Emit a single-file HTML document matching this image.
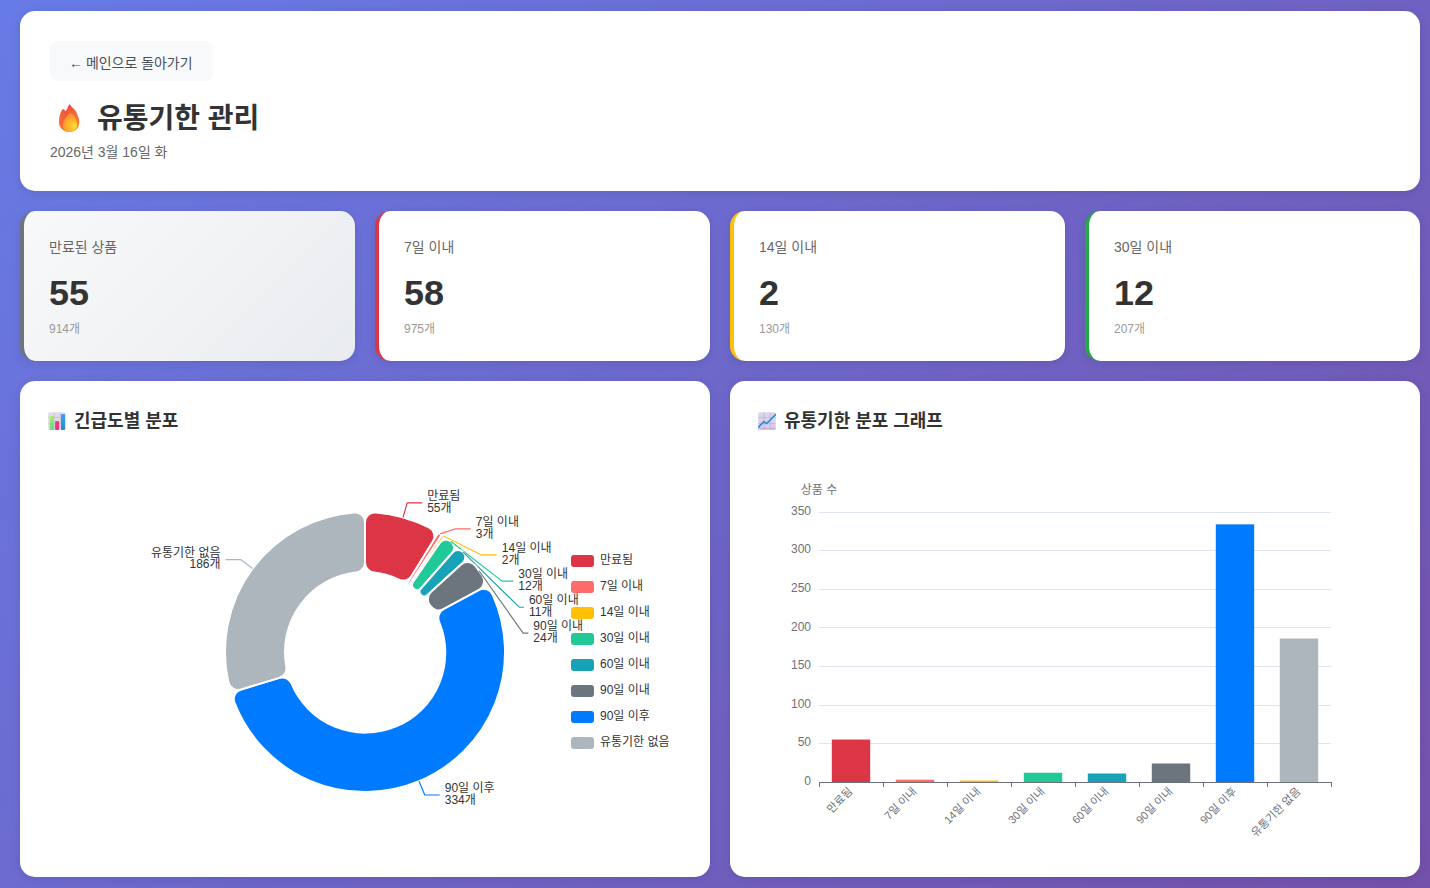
<!DOCTYPE html>
<html lang="ko"><head><meta charset="utf-8"><title>유통기한 관리</title>
<style>
*{box-sizing:border-box}
html,body{margin:0;padding:0}
body{width:1430px;height:888px;overflow:hidden;position:relative;
 font-family:"Liberation Sans","Noto Sans CJK KR",sans-serif;color:#333;
 background:linear-gradient(135deg,#677be6 0%,#7451ab 100%)}
.container{position:absolute;left:20px;top:11px;width:1400px;height:866px}
.card{position:absolute;background:#fff;border-radius:15px;box-shadow:0 2px 10px rgba(0,0,0,.1)}
.header{left:0;top:0;width:1400px;height:180px}
.back{position:absolute;left:30px;top:30px;width:163px;height:40px;margin:0;padding:0;border:0;
 border-radius:8px;background:#f8f9fa;font:inherit;color:#495057}
.stats{position:absolute;left:0;top:200px;width:1400px;height:150px}
.stat-card{position:absolute;top:0;width:335px;height:150px;background:#fff;border-radius:15px;
 border-left:4px solid #28a745;box-shadow:0 2px 10px rgba(0,0,0,.1)}
.stat-card.expired{border-left-color:#6c757d;background:linear-gradient(135deg,#f8f9fa 0%,#e9ecef 100%)}
.stat-card.d7{border-left-color:#dc3545}
.stat-card.d14{border-left-color:#ffc107}
.stat-card.d30{border-left-color:#28a745}
.charts{position:absolute;left:0;top:370px;width:1400px;height:496px}
.chart-card{top:0;width:690px;height:496px}
.chart{position:absolute;left:25px;top:71px;display:block}
.t{position:absolute;margin:0;padding:0;font-weight:inherit;line-height:1;white-space:nowrap;overflow:visible}
.t svg{position:absolute;left:0;top:0;display:block;overflow:visible}
.t svg text{font-family:"Liberation Sans","Noto Sans CJK KR",sans-serif;white-space:pre}
.ico{position:absolute;display:block}
.ht{stroke:none;font-family:"Liberation Sans","Noto Sans CJK KR",sans-serif}
</style></head>
<body>
<div class="container">
<header class="card header"><button class="back" type="button"><span class="t bt" style="left:19.12px;top:11.82px;width:125.73px;height:18.67px;font-size:14px;"><svg width="125.73" height="18.67" viewBox="0 0 125.73 18.67"><text x="0" y="14.58" font-size="14" fill="#495057">←</text><text x="16.86" y="14.58" font-size="14" fill="#495057">메인으로 돌아가기</text></svg></span></button><svg class="ico" style="left:30px;top:87px" width="40" height="40" viewBox="0 0 40 40" aria-hidden="true">
<defs>
<linearGradient id="fo" gradientUnits="userSpaceOnUse" x1="17" y1="6" x2="25" y2="34"><stop offset="0" stop-color="#ec383d"/><stop offset="0.3" stop-color="#f4623a"/><stop offset="1" stop-color="#fa8b36"/></linearGradient>
<linearGradient id="fm" gradientUnits="userSpaceOnUse" x1="12" y1="13" x2="16" y2="34"><stop offset="0" stop-color="#f0503a"/><stop offset="1" stop-color="#f67836"/></linearGradient>
<radialGradient id="fi" gradientUnits="userSpaceOnUse" cx="24.3" cy="28.3" r="14"><stop offset="0" stop-color="#ffe22f"/><stop offset="0.4" stop-color="#ffb62e"/><stop offset="1" stop-color="#f68a30"/></radialGradient>
</defs>
<path fill="url(#fo)" d="M19.4 6C20.8 8.2 22.8 9.8 24.3 11.3C26 13 28 17.5 29.1 21.5C29.6 23.5 29.5 26.5 27.9 29.6C26.5 32.2 23.5 34 20.2 34C16.8 34 13.5 32.6 11.3 30.4C9.6 28.6 8.9 26.5 9 24C9.1 20 9.6 16.8 10.9 14.2C11.5 13 12.3 11.8 13.1 11.1C14 11.7 15 12.5 15.8 13.35C16.6 12 18.2 8.6 19.4 6Z"/>
<path fill="url(#fm)" d="M15.8 13.35C14.8 15 13.9 16.8 13.3 18.2C12.4 19.8 11.5 21.6 11.1 23.1C10.7 24.8 10.6 26.4 10.9 27.9C11.3 29.6 12.2 31 13.3 32C14.5 33 16 33.7 17.4 33.9L20.2 15C18.8 14.2 17.2 13.6 15.8 13.35Z" opacity="0.9"/>
<path fill="url(#fi)" d="M20.2 15C21.2 15.4 22.2 16 23.05 16.6C24.4 18 25.4 20 25.9 21.5C26.6 23 27.1 24.4 27.1 25.5C27.3 27 27.2 28.4 26.7 29.6C26 31.4 24.6 32.8 23 33.4C22 33.8 21 34 20.2 34C18.8 34 17.4 33.8 16.2 33.4C14.8 32.8 13.8 31.6 13.5 30.4C13 29 12.9 27 13.1 25.5C13.4 23.8 14.1 22.4 14.9 21.05C15.6 19.8 16.4 18.6 17.4 17.4C18.2 16.4 19.2 15.5 20.2 15Z"/>
</svg><h1 class="t title" style="left:76.85px;top:91.01px;width:164.23px;height:32.01px;font-size:28px;"><svg width="164.23" height="32.01" viewBox="0 0 164.23 32.01"><text x="0" y="26.49" font-size="28" font-weight="bold" fill="#333">유통기한 관리</text></svg></h1><p class="t date" style="left:29.75px;top:131.32px;width:117.87px;height:18.67px;font-size:14px;"><svg width="117.87" height="18.67" viewBox="0 0 117.87 18.67"><text x="0" y="14.58" font-size="14" fill="#666">2026년 3월 16일 화</text></svg></p></header>
<section class="stats"><div class="stat-card expired" style="left:0px"><div class="t lab" style="left:25px;top:26.32px;width:70.24px;height:18.64px;font-size:14px;"><svg width="70.24" height="18.64" viewBox="0 0 70.24 18.64"><text x="0" y="14.58" font-size="14" fill="#666">만료된 상품</text></svg></div><div class="t num" style="left:25.2px;top:65.2px;width:43.17px;height:32.05px;font-size:36px;"><svg width="43.17" height="32.05" viewBox="0 0 43.17 32.05"><text x="0" y="28.7" font-size="36" font-weight="bold" fill="#333">55</text></svg></div><div class="t sub" style="left:25px;top:109.08px;width:32.45px;height:16.86px;font-size:12px;"><svg width="32.45" height="16.86" viewBox="0 0 32.45 16.86"><text x="0" y="12.92" font-size="12" fill="#999">914개</text></svg></div></div><div class="stat-card d7" style="left:355px"><div class="t lab" style="left:25px;top:26.32px;width:52.02px;height:18.68px;font-size:14px;"><svg width="52.02" height="18.68" viewBox="0 0 52.02 18.68"><text x="0" y="14.58" font-size="14" fill="#666">7일 이내</text></svg></div><div class="t num" style="left:25.2px;top:64.87px;width:43.17px;height:32.38px;font-size:36px;"><svg width="43.17" height="32.38" viewBox="0 0 43.17 32.38"><text x="0" y="29.03" font-size="36" font-weight="bold" fill="#333">58</text></svg></div><div class="t sub" style="left:25px;top:109.08px;width:32.45px;height:16.86px;font-size:12px;"><svg width="32.45" height="16.86" viewBox="0 0 32.45 16.86"><text x="0" y="12.92" font-size="12" fill="#999">975개</text></svg></div></div><div class="stat-card d14" style="left:710px"><div class="t lab" style="left:25px;top:26.32px;width:59.57px;height:18.68px;font-size:14px;"><svg width="59.57" height="18.68" viewBox="0 0 59.57 18.68"><text x="0" y="14.58" font-size="14" fill="#666">14일 이내</text></svg></div><div class="t num" style="left:25.2px;top:64.83px;width:22.58px;height:32.07px;font-size:36px;"><svg width="22.58" height="32.07" viewBox="0 0 22.58 32.07"><text x="0" y="29.07" font-size="36" font-weight="bold" fill="#333">2</text></svg></div><div class="t sub" style="left:25px;top:109.08px;width:32.45px;height:16.86px;font-size:12px;"><svg width="32.45" height="16.86" viewBox="0 0 32.45 16.86"><text x="0" y="12.92" font-size="12" fill="#999">130개</text></svg></div></div><div class="stat-card d30" style="left:1065px"><div class="t lab" style="left:25px;top:26.32px;width:59.57px;height:18.68px;font-size:14px;"><svg width="59.57" height="18.68" viewBox="0 0 59.57 18.68"><text x="0" y="14.58" font-size="14" fill="#666">30일 이내</text></svg></div><div class="t num" style="left:25.2px;top:64.83px;width:43.17px;height:32.07px;font-size:36px;"><svg width="43.17" height="32.07" viewBox="0 0 43.17 32.07"><text x="0" y="29.07" font-size="36" font-weight="bold" fill="#333">12</text></svg></div><div class="t sub" style="left:25px;top:109.08px;width:32.45px;height:16.86px;font-size:12px;"><svg width="32.45" height="16.86" viewBox="0 0 32.45 16.86"><text x="0" y="12.92" font-size="12" fill="#999">207개</text></svg></div></div></section>
<section class="charts">
<div class="card chart-card" style="left:0"><svg class="ico" style="left:28px;top:31px" width="18" height="18" viewBox="0 0 18 18" aria-hidden="true">
<defs><linearGradient id="ib1" x1="0" y1="0" x2="0.3" y2="1"><stop offset="0" stop-color="#b8f066"/><stop offset="1" stop-color="#62dc7c"/></linearGradient>
<linearGradient id="ib2" x1="0" y1="0" x2="0" y2="1"><stop offset="0" stop-color="#f43a82"/><stop offset="1" stop-color="#e43470"/></linearGradient>
<linearGradient id="ib3" x1="0" y1="0" x2="0" y2="1"><stop offset="0" stop-color="#32a8f4"/><stop offset="1" stop-color="#3182d6"/></linearGradient></defs>
<rect x="0.2" y="0.2" width="17.6" height="17.6" rx="1.6" fill="#e2dbec"/>
<path d="M6.2 0.4V17.6M12.2 0.4V17.6M0.4 5.6H17.6M0.4 11.6H17.6" stroke="#c4bbcf" stroke-width="0.7" fill="none"/>
<rect x="1.7" y="4" width="4.1" height="14" rx="0.8" fill="url(#ib1)"/>
<rect x="7.1" y="9" width="3.9" height="9" rx="0.8" fill="url(#ib2)"/>
<rect x="13" y="2" width="4" height="16" rx="0.8" fill="url(#ib3)"/>
</svg><h2 class="t ct" style="left:54.1px;top:27.82px;width:106.29px;height:22.51px;font-size:18px;"><svg width="106.29" height="22.51" viewBox="0 0 106.29 22.51"><text x="0" y="18.08" font-size="18" font-weight="bold" fill="#333">긴급도별 분포</text></svg></h2><svg class="chart" width="640" height="400" viewBox="0 0 640 400" role="img" aria-label="긴급도별 분포"><g stroke="#fff" stroke-width="2" stroke-linejoin="round"><path d="M320.00 70.39A10.00 10.00 0 0 1 330.77 60.41A140.00 140.00 0 0 1 383.92 75.45A10.00 10.00 0 0 1 387.88 89.58L366.84 123.80A10.00 10.00 0 0 1 354.06 127.61A80.00 80.00 0 0 0 328.89 120.50A10.00 10.00 0 0 1 320.00 110.56Z" fill="#dc3545"/><polyline points="358.09,65.28 362.18,50.85 377.18,50.85" fill="none" stroke="#dc3545" stroke-width="1.15"/><path d="M392.22 82.51A2.07 2.07 0 1 1 395.72 84.73L364.59 132.12A1.22 1.22 0 0 1 362.53 130.81Z" fill="#ff6b6b"/><polyline points="395.1,81.85 410.5,76.8 425.8,76.8" fill="none" stroke="#ff6b6b" stroke-width="1.15"/><path d="M396.10 84.16A1.39 1.39 0 1 1 398.41 85.70L365.71 133.37A0.81 0.81 0 0 1 364.37 132.46Z" fill="#ffc107"/><polyline points="398.03,83.77 436.5,102.9 451.8,102.9" fill="none" stroke="#ffc107" stroke-width="1.15"/><path d="M394.57 91.29A7.94 7.94 0 1 1 407.07 101.02L376.12 136.21A5.11 5.11 0 0 1 368.06 129.94Z" fill="#20c997"/><polyline points="405.99,89.52 457,129.1 468.3,129.1" fill="none" stroke="#20c997" stroke-width="1.15"/><path d="M407.51 100.53A7.31 7.31 0 1 1 417.92 110.76L382.48 143.06A4.66 4.66 0 0 1 375.84 136.53Z" fill="#17a2b8"/><polyline points="418.12,100.14 474.3,155.2 478.9,155.2" fill="none" stroke="#17a2b8" stroke-width="1.15"/><path d="M415.80 112.69A10.00 10.00 0 0 1 430.42 113.94A140.00 140.00 0 0 1 437.45 123.80A10.00 10.00 0 0 1 433.84 138.02L398.56 157.23A10.00 10.00 0 0 1 385.58 154.18A80.00 80.00 0 0 0 384.75 153.02A10.00 10.00 0 0 1 386.11 139.75Z" fill="#6c757d"/><polyline points="434.04,118.79 478.1,181.1 483.3,181.1" fill="none" stroke="#6c757d" stroke-width="1.15"/><path d="M433.84 138.02A10.00 10.00 0 0 1 447.74 142.72A140.00 140.00 0 1 1 189.48 250.64A10.00 10.00 0 0 1 195.91 237.45L234.37 225.84A10.00 10.00 0 0 1 246.45 231.48A80.00 80.00 0 0 0 394.08 169.79A10.00 10.00 0 0 1 398.56 157.23Z" fill="#007bff"/><polyline points="373.98,329.17 379.76,343.01 394.76,343.01" fill="none" stroke="#007bff" stroke-width="1.15"/><path d="M195.91 237.45A10.00 10.00 0 0 1 183.26 230.02A140.00 140.00 0 0 1 309.23 60.41A10.00 10.00 0 0 1 320.00 70.39L320.00 110.56A10.00 10.00 0 0 1 311.11 120.50A80.00 80.00 0 0 0 241.32 214.46A10.00 10.00 0 0 1 234.37 225.84Z" fill="#adb5bd"/><polyline points="207.61,116.52 195.57,107.58 180.57,107.58" fill="none" stroke="#adb5bd" stroke-width="1.15"/></g><text x="382.18" y="47.85" text-anchor="start" class="ht" font-size="12" fill="#333">만료됨</text><text x="382.18" y="59.75" text-anchor="start" class="ht" font-size="12" fill="#333">55개</text><text x="430.8" y="73.8" text-anchor="start" class="ht" font-size="12" fill="#333">7일 이내</text><text x="430.8" y="85.7" text-anchor="start" class="ht" font-size="12" fill="#333">3개</text><text x="456.8" y="99.9" text-anchor="start" class="ht" font-size="12" fill="#333">14일 이내</text><text x="456.8" y="111.8" text-anchor="start" class="ht" font-size="12" fill="#333">2개</text><text x="473.3" y="126.1" text-anchor="start" class="ht" font-size="12" fill="#333">30일 이내</text><text x="473.3" y="138" text-anchor="start" class="ht" font-size="12" fill="#333">12개</text><text x="483.9" y="152.2" text-anchor="start" class="ht" font-size="12" fill="#333">60일 이내</text><text x="483.9" y="164.1" text-anchor="start" class="ht" font-size="12" fill="#333">11개</text><text x="488.3" y="178.1" text-anchor="start" class="ht" font-size="12" fill="#333">90일 이내</text><text x="488.3" y="190" text-anchor="start" class="ht" font-size="12" fill="#333">24개</text><text x="399.76" y="340.01" text-anchor="start" class="ht" font-size="12" fill="#333">90일 이후</text><text x="399.76" y="351.91" text-anchor="start" class="ht" font-size="12" fill="#333">334개</text><text x="175.57" y="104.58" text-anchor="end" class="ht" font-size="12" fill="#333">유통기한 없음</text><text x="175.57" y="116.48" text-anchor="end" class="ht" font-size="12" fill="#333">186개</text><rect x="526" y="103" width="23" height="12" rx="3" fill="#dc3545"/><text x="555" y="112" text-anchor="start" class="ht" font-size="12" fill="#333">만료됨</text><rect x="526" y="129" width="23" height="12" rx="3" fill="#ff6b6b"/><text x="555" y="138" text-anchor="start" class="ht" font-size="12" fill="#333">7일 이내</text><rect x="526" y="155" width="23" height="12" rx="3" fill="#ffc107"/><text x="555" y="164" text-anchor="start" class="ht" font-size="12" fill="#333">14일 이내</text><rect x="526" y="181" width="23" height="12" rx="3" fill="#20c997"/><text x="555" y="190" text-anchor="start" class="ht" font-size="12" fill="#333">30일 이내</text><rect x="526" y="207" width="23" height="12" rx="3" fill="#17a2b8"/><text x="555" y="216" text-anchor="start" class="ht" font-size="12" fill="#333">60일 이내</text><rect x="526" y="233" width="23" height="12" rx="3" fill="#6c757d"/><text x="555" y="242" text-anchor="start" class="ht" font-size="12" fill="#333">90일 이내</text><rect x="526" y="259" width="23" height="12" rx="3" fill="#007bff"/><text x="555" y="268" text-anchor="start" class="ht" font-size="12" fill="#333">90일 이후</text><rect x="526" y="285" width="23" height="12" rx="3" fill="#adb5bd"/><text x="555" y="294" text-anchor="start" class="ht" font-size="12" fill="#333">유통기한 없음</text></svg></div>
<div class="card chart-card" style="left:710px"><svg class="ico" style="left:28px;top:31px" width="18" height="18" viewBox="0 0 18 18" aria-hidden="true">
<defs><linearGradient id="il1" x1="0" y1="0" x2="0" y2="1"><stop offset="0" stop-color="#dfd6ea"/><stop offset="0.8" stop-color="#dccfe8"/><stop offset="1" stop-color="#c4a6d8"/></linearGradient></defs>
<rect x="0.2" y="0.2" width="17.6" height="17.6" rx="1.6" fill="url(#il1)"/>
<path d="M6.2 0.4V17.6M12.2 0.4V17.6M0.4 5.6H17.6M0.4 11.6H17.6" stroke="#bfb2cc" stroke-width="0.7" fill="none"/>
<path d="M0.7 14.9L5.9 9.7L8.8 11.5L17.5 2.6" stroke="#2b8fe2" stroke-width="1.7" stroke-linecap="round" stroke-linejoin="round" fill="none"/>
</svg><h2 class="t ct" style="left:54.1px;top:27.82px;width:160.9px;height:22.69px;font-size:18px;"><svg width="160.9" height="22.69" viewBox="0 0 160.9 22.69"><text x="0" y="18.08" font-size="18" font-weight="bold" fill="#333">유통기한 분포 그래프</text></svg></h2><svg class="chart" width="640" height="400" viewBox="0 0 640 400" role="img" aria-label="유통기한 분포 그래프"><path d="M64 291.5H576M64 253.5H576M64 214.5H576M64 175.5H576M64 137.5H576M64 98.5H576M64 60.5H576" stroke="#e0e6f1" stroke-width="1" fill="none"/><rect x="76.8" y="287.57" width="38.4" height="42.43" fill="#dc3545"/><rect x="140.8" y="327.69" width="38.4" height="2.31" fill="#ff6b6b"/><rect x="204.8" y="328.46" width="38.4" height="1.54" fill="#ffc107"/><rect x="268.8" y="320.74" width="38.4" height="9.26" fill="#20c997"/><rect x="332.8" y="321.51" width="38.4" height="8.49" fill="#17a2b8"/><rect x="396.8" y="311.49" width="38.4" height="18.51" fill="#6c757d"/><rect x="460.8" y="72.34" width="38.4" height="257.66" fill="#007bff"/><rect x="524.8" y="186.51" width="38.4" height="143.49" fill="#adb5bd"/><path d="M64 330.5H577M64.5 330V335M128.5 330V335M192.5 330V335M256.5 330V335M320.5 330V335M384.5 330V335M448.5 330V335M512.5 330V335M576.5 330V335" stroke="#6e7079" stroke-width="1" fill="none"/><text x="56" y="332.85" text-anchor="end" class="ht" font-size="12" fill="#6e7079">0</text><text x="56" y="294.28" text-anchor="end" class="ht" font-size="12" fill="#6e7079">50</text><text x="56" y="255.71" text-anchor="end" class="ht" font-size="12" fill="#6e7079">100</text><text x="56" y="217.14" text-anchor="end" class="ht" font-size="12" fill="#6e7079">150</text><text x="56" y="178.56" text-anchor="end" class="ht" font-size="12" fill="#6e7079">200</text><text x="56" y="139.99" text-anchor="end" class="ht" font-size="12" fill="#6e7079">250</text><text x="56" y="101.42" text-anchor="end" class="ht" font-size="12" fill="#6e7079">300</text><text x="56" y="62.85" text-anchor="end" class="ht" font-size="12" fill="#6e7079">350</text><text x="64" y="41.9" text-anchor="middle" class="ht" font-size="12" fill="#6e7079">상품 수</text><g transform="translate(96 338) rotate(-45)"><text x="0" y="3" text-anchor="end" class="ht" font-size="11.05" fill="#6e7079">만료됨</text></g><g transform="translate(160 338) rotate(-45)"><text x="0" y="3" text-anchor="end" class="ht" font-size="11.05" fill="#6e7079">7일 이내</text></g><g transform="translate(224 338) rotate(-45)"><text x="0" y="3" text-anchor="end" class="ht" font-size="11.05" fill="#6e7079">14일 이내</text></g><g transform="translate(288 338) rotate(-45)"><text x="0" y="3" text-anchor="end" class="ht" font-size="11.05" fill="#6e7079">30일 이내</text></g><g transform="translate(352 338) rotate(-45)"><text x="0" y="3" text-anchor="end" class="ht" font-size="11.05" fill="#6e7079">60일 이내</text></g><g transform="translate(416 338) rotate(-45)"><text x="0" y="3" text-anchor="end" class="ht" font-size="11.05" fill="#6e7079">90일 이내</text></g><g transform="translate(480 338) rotate(-45)"><text x="0" y="3" text-anchor="end" class="ht" font-size="11.05" fill="#6e7079">90일 이후</text></g><g transform="translate(544 338) rotate(-45)"><text x="0" y="3" text-anchor="end" class="ht" font-size="11.05" fill="#6e7079">유통기한 없음</text></g></svg></div>
</section></div>
</body></html>
